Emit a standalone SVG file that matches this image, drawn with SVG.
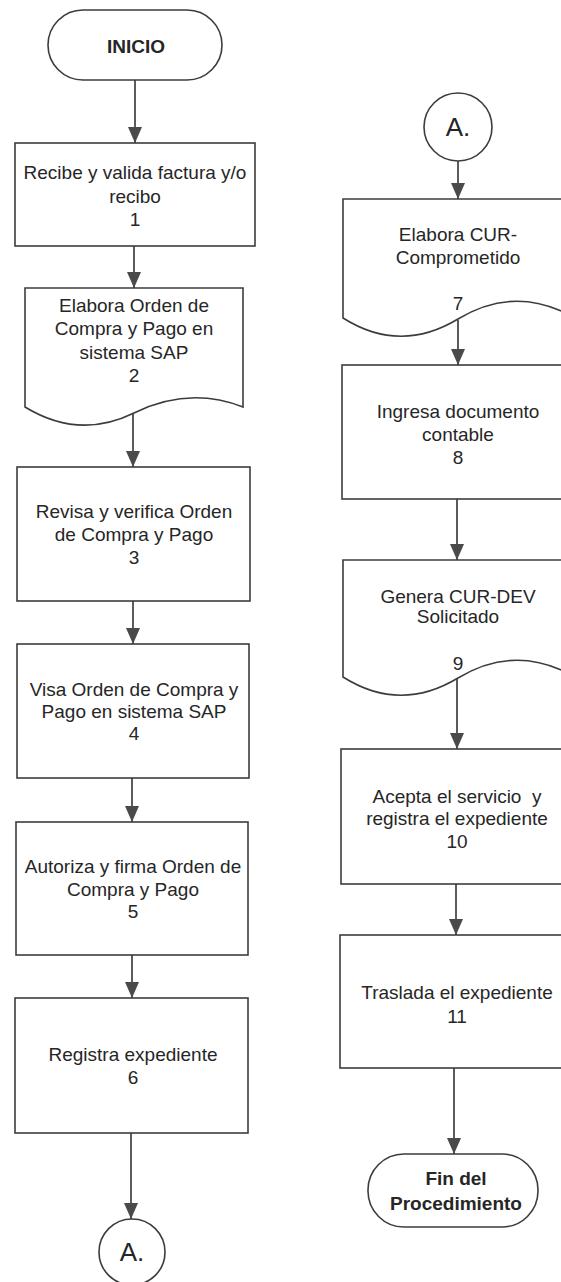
<svg xmlns="http://www.w3.org/2000/svg" width="561" height="1282" viewBox="0 0 561 1282">
  <style>
    .shape { fill: #ffffff; stroke: #3c3c3c; stroke-width: 1.6; }
    .conn { fill: none; stroke: #4a4a4a; stroke-width: 1.8; }
    text { font-family: "Liberation Sans", Arial, sans-serif; font-size: 19px; fill: #262626; text-anchor: middle; }
    .bold { font-weight: bold; }
    .big { font-size: 26px; }
  </style>
  <defs>
    <marker id="arrow" markerUnits="userSpaceOnUse" markerWidth="16" markerHeight="14" refX="16" refY="7" orient="auto">
      <path d="M0,0 L16,7 L0,14 z" fill="#4a4a4a"/>
    </marker>
  </defs>
  <rect width="561" height="1282" fill="#ffffff"/>

  <g id="connectors">
    <line class="conn" x1="135" y1="80" x2="135" y2="143" marker-end="url(#arrow)"/>
    <line class="conn" x1="134" y1="246" x2="134" y2="288" marker-end="url(#arrow)"/>
    <line class="conn" x1="133" y1="413" x2="133" y2="467" marker-end="url(#arrow)"/>
    <line class="conn" x1="133" y1="601" x2="133" y2="644" marker-end="url(#arrow)"/>
    <line class="conn" x1="132" y1="778" x2="132" y2="822" marker-end="url(#arrow)"/>
    <line class="conn" x1="132" y1="955" x2="132" y2="998" marker-end="url(#arrow)"/>
    <line class="conn" x1="131" y1="1133" x2="131" y2="1219" marker-end="url(#arrow)"/>
    <line class="conn" x1="458" y1="161" x2="458" y2="199" marker-end="url(#arrow)"/>
    <line class="conn" x1="458" y1="320" x2="458" y2="365" marker-end="url(#arrow)"/>
    <line class="conn" x1="457" y1="499" x2="457" y2="560" marker-end="url(#arrow)"/>
    <line class="conn" x1="457" y1="678" x2="457" y2="749" marker-end="url(#arrow)"/>
    <line class="conn" x1="456" y1="884" x2="456" y2="935" marker-end="url(#arrow)"/>
    <line class="conn" x1="454" y1="1068" x2="454" y2="1154" marker-end="url(#arrow)"/>
  </g>

  <g id="inicio">
    <rect class="shape" x="48" y="10" width="174" height="70" rx="35" ry="35"/>
    <text class="bold" x="136" y="53">INICIO</text>
  </g>

  <g id="step1">
    <rect class="shape" x="15" y="143" width="240" height="103"/>
    <text x="135" y="179">Recibe y valida factura y/o</text>
    <text x="135" y="203">recibo</text>
    <text x="135" y="226">1</text>
  </g>

  <g id="step2">
    <path class="shape" d="M25,288 L243,288 L243,407 Q189,386 134,413 Q79,440 25,407 Z"/>
    <text x="134" y="312">Elabora Orden de</text>
    <text x="134" y="335">Compra y Pago en</text>
    <text x="134" y="359">sistema SAP</text>
    <text x="134" y="382">2</text>
  </g>

  <g id="step3">
    <rect class="shape" x="17" y="467" width="233" height="134"/>
    <text x="134" y="518">Revisa y verifica Orden</text>
    <text x="134" y="541">de Compra y Pago</text>
    <text x="134" y="564">3</text>
  </g>

  <g id="step4">
    <rect class="shape" x="17" y="644" width="232" height="134"/>
    <text x="134" y="696">Visa Orden de Compra y</text>
    <text x="134" y="718">Pago en sistema SAP</text>
    <text x="134" y="740">4</text>
  </g>

  <g id="step5">
    <rect class="shape" x="16" y="822" width="232" height="133"/>
    <text x="133" y="873">Autoriza y firma Orden de</text>
    <text x="133" y="896">Compra y Pago</text>
    <text x="133" y="918">5</text>
  </g>

  <g id="step6">
    <rect class="shape" x="15" y="998" width="233" height="135"/>
    <text x="133" y="1061">Registra expediente</text>
    <text x="133" y="1084">6</text>
  </g>

  <g id="connector-a-out">
    <circle class="shape" cx="132" cy="1252" r="33"/>
    <text class="big" x="132" y="1261">A.</text>
  </g>

  <g id="connector-a-in">
    <circle class="shape" cx="458" cy="127" r="34"/>
    <text class="big" x="458" y="136">A.</text>
  </g>

  <g id="step7">
    <path class="shape" d="M343,199 L575,199 L575,318 Q516,284 458,319 Q400,354 343,318 Z"/>
    <text x="458" y="241">Elabora CUR-</text>
    <text x="458" y="264">Comprometido</text>
    <text x="458" y="310">7</text>
  </g>

  <g id="step8">
    <rect class="shape" x="342" y="365" width="233" height="134"/>
    <text x="458" y="418">Ingresa documento</text>
    <text x="458" y="441">contable</text>
    <text x="458" y="464">8</text>
  </g>

  <g id="step9">
    <path class="shape" d="M343,560 L575,560 L575,677 Q516,643 458,678 Q400,713 343,677 Z"/>
    <text x="458" y="603">Genera CUR-DEV</text>
    <text x="458" y="623">Solicitado</text>
    <text x="458" y="670">9</text>
  </g>

  <g id="step10">
    <rect class="shape" x="341" y="749" width="234" height="135"/>
    <text x="457" y="803" xml:space="preserve">Acepta el servicio  y</text>
    <text x="457" y="825">registra el expediente</text>
    <text x="457" y="848">10</text>
  </g>

  <g id="step11">
    <rect class="shape" x="340" y="935" width="235" height="133"/>
    <text x="457" y="999">Traslada el expediente</text>
    <text x="457" y="1023">11</text>
  </g>

  <g id="fin">
    <rect class="shape" x="368" y="1154" width="170" height="73" rx="36" ry="36"/>
    <text class="bold" x="456" y="1185">Fin del</text>
    <text class="bold" x="456" y="1210">Procedimiento</text>
  </g>
</svg>
